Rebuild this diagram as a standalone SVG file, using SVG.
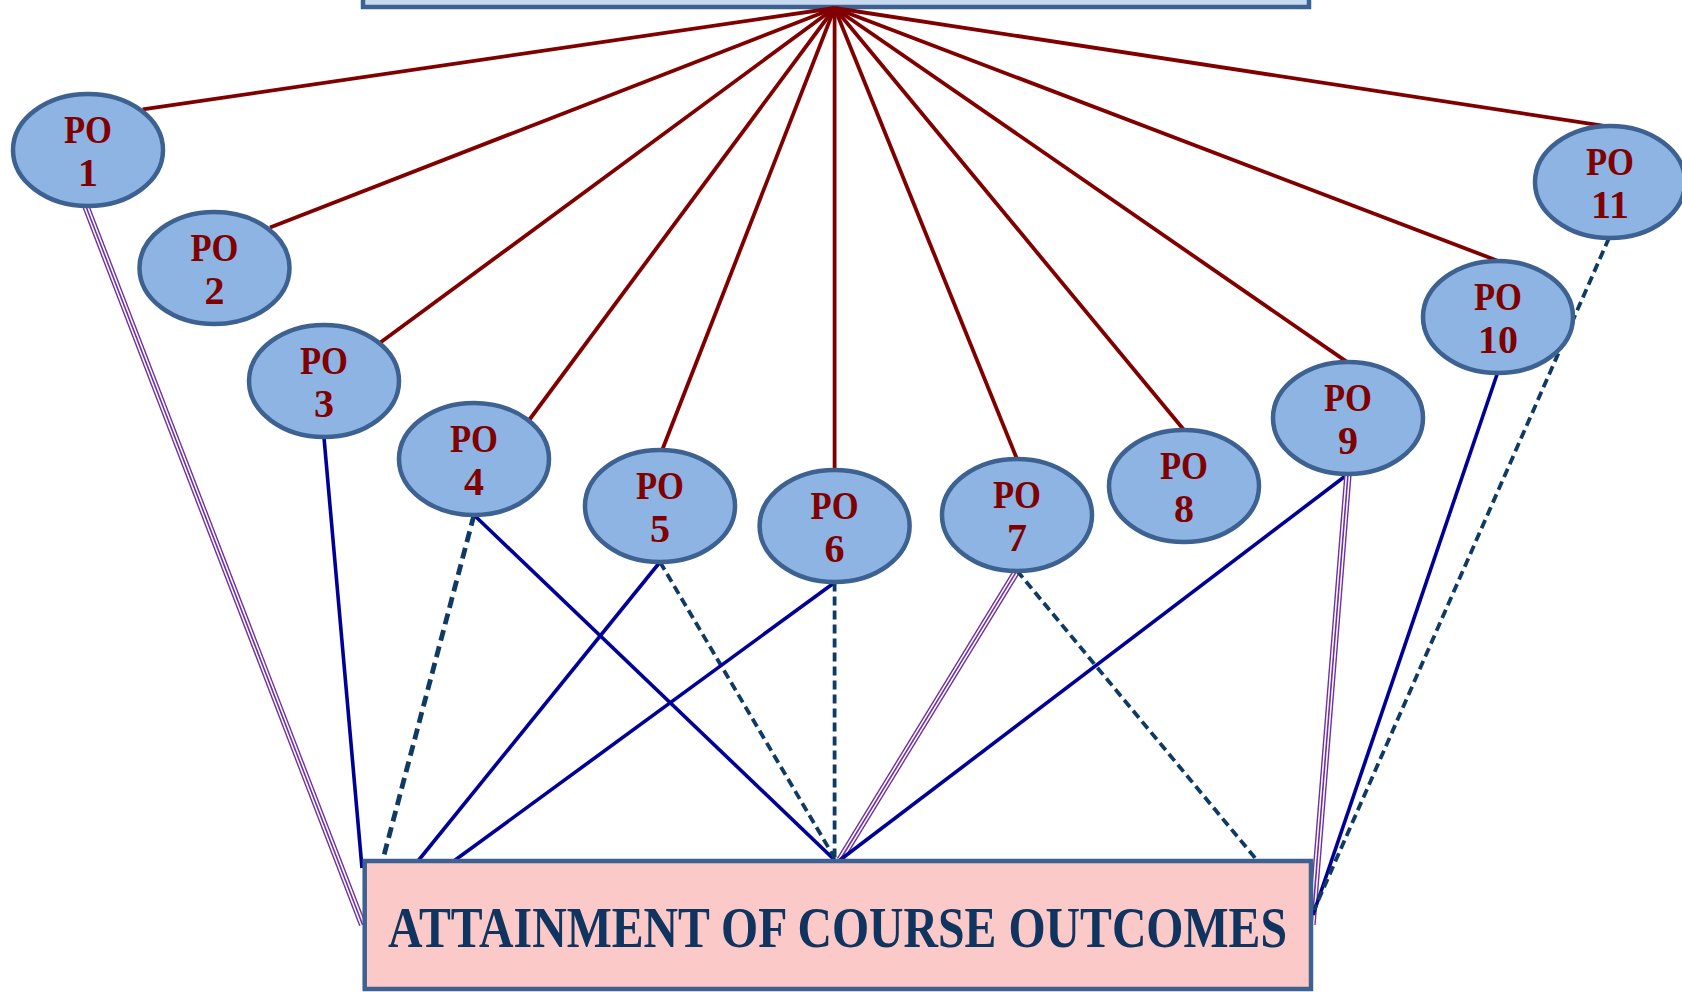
<svg xmlns="http://www.w3.org/2000/svg" width="1682" height="992" viewBox="0 0 1682 992">
<style>
.po{fill:#8eb4e3;stroke:#3d6190;stroke-width:4.5}
.pt{font-family:"Liberation Serif",serif;font-weight:bold;font-size:40px;fill:#800000;text-anchor:middle}
.red{stroke:#800000;stroke-width:3.8;fill:none}
.blue{stroke:#000099;stroke-width:3.6;fill:none}
.dash{stroke:#0f3a63;stroke-width:3.8;stroke-dasharray:9 5;fill:none}
.dashw{stroke:#0f3a63;stroke-width:4.8;stroke-dasharray:11 6;fill:none}
.p1{stroke:#7030a0;stroke-width:7.4;fill:none}
.p2{stroke:#ffffff;stroke-width:4.6;fill:none}
.p3{stroke:#7030a0;stroke-width:1.6;fill:none}
</style>
<rect width="1682" height="992" fill="#ffffff"/>
<g id="top-box">
<rect x="363" y="-30" width="946" height="37" fill="#c6d9f1" stroke="#3d6190" stroke-width="4.5"/>
</g>
<g id="connectors">
<line class="red" x1="834.6" y1="8" x2="142.7" y2="109.4"/>
<line class="red" x1="834.6" y1="8" x2="270" y2="227.4"/>
<line class="red" x1="834.6" y1="8" x2="379.7" y2="343"/>
<line class="red" x1="834.6" y1="8" x2="528.8" y2="420.5"/>
<line class="red" x1="834.6" y1="8" x2="662" y2="450.5"/>
<line class="red" x1="834.6" y1="8" x2="834.6" y2="470"/>
<line class="red" x1="834.6" y1="8" x2="1017" y2="459"/>
<line class="red" x1="834.6" y1="8" x2="1184" y2="430"/>
<line class="red" x1="834.6" y1="8" x2="1348" y2="362.6"/>
<line class="red" x1="834.6" y1="8" x2="1497.5" y2="260.7"/>
<line class="red" x1="834.6" y1="8" x2="1609" y2="126.6"/>
<g>
<line class="p1" x1="85.8" y1="206" x2="362.6" y2="924.7"/>
<line class="p2" x1="85.8" y1="206" x2="362.6" y2="924.7"/>
<line class="p3" x1="85.8" y1="206" x2="362.6" y2="924.7"/>
</g>
<line class="blue" x1="324" y1="437.7" x2="362" y2="868"/>
<line class="dashw" x1="474" y1="515" x2="383" y2="859"/>
<line class="blue" x1="474" y1="515" x2="834.6" y2="860"/>
<line class="blue" x1="660" y1="562" x2="418" y2="861"/>
<line class="dash" x1="660" y1="562" x2="834.6" y2="858"/>
<line class="blue" x1="834.6" y1="582.5" x2="453.8" y2="861"/>
<line class="dash" x1="834.6" y1="582.5" x2="834.6" y2="858"/>
<g>
<line class="p1" x1="1017" y1="570.7" x2="840" y2="860"/>
<line class="p2" x1="1017" y1="570.7" x2="840" y2="860"/>
<line class="p3" x1="1017" y1="570.7" x2="840" y2="860"/>
</g>
<line class="dash" x1="1017" y1="570.7" x2="1256" y2="859"/>
<line class="blue" x1="1348" y1="474" x2="840" y2="860"/>
<g>
<line class="p1" x1="1348" y1="474" x2="1312" y2="924.7"/>
<line class="p2" x1="1348" y1="474" x2="1312" y2="924.7"/>
<line class="p3" x1="1348" y1="474" x2="1312" y2="924.7"/>
</g>
<line class="blue" x1="1497.5" y1="373" x2="1313" y2="915"/>
<line class="dash" x1="1609" y1="238" x2="1314" y2="910"/>
</g>
<g id="outcomes">
<rect x="364.7" y="861" width="946.3" height="128" fill="#fcc9c9" stroke="#3d6190" stroke-width="4.5"/>
<text x="837.5" y="947" font-family="'Liberation Serif',serif" font-weight="bold" font-size="58" fill="#0f3460" text-anchor="middle" textLength="899" lengthAdjust="spacingAndGlyphs">ATTAINMENT OF COURSE OUTCOMES</text>
</g>
<g id="po1"><ellipse class="po" cx="88" cy="150" rx="75" ry="56"/><text class="pt" x="88" y="143" textLength="48" lengthAdjust="spacingAndGlyphs">PO</text><text class="pt" x="88" y="186">1</text></g>
<g id="po2"><ellipse class="po" cx="214.5" cy="268" rx="75" ry="56"/><text class="pt" x="214.5" y="261" textLength="48" lengthAdjust="spacingAndGlyphs">PO</text><text class="pt" x="214.5" y="304">2</text></g>
<g id="po3"><ellipse class="po" cx="324" cy="381" rx="75" ry="56"/><text class="pt" x="324" y="374" textLength="48" lengthAdjust="spacingAndGlyphs">PO</text><text class="pt" x="324" y="417">3</text></g>
<g id="po4"><ellipse class="po" cx="474" cy="459" rx="75" ry="56"/><text class="pt" x="474" y="452" textLength="48" lengthAdjust="spacingAndGlyphs">PO</text><text class="pt" x="474" y="495">4</text></g>
<g id="po5"><ellipse class="po" cx="660" cy="506" rx="75" ry="56"/><text class="pt" x="660" y="499" textLength="48" lengthAdjust="spacingAndGlyphs">PO</text><text class="pt" x="660" y="542">5</text></g>
<g id="po6"><ellipse class="po" cx="834.6" cy="526" rx="75" ry="56"/><text class="pt" x="834.6" y="519" textLength="48" lengthAdjust="spacingAndGlyphs">PO</text><text class="pt" x="834.6" y="562">6</text></g>
<g id="po7"><ellipse class="po" cx="1017" cy="515" rx="75" ry="56"/><text class="pt" x="1017" y="508" textLength="48" lengthAdjust="spacingAndGlyphs">PO</text><text class="pt" x="1017" y="551">7</text></g>
<g id="po8"><ellipse class="po" cx="1184" cy="486" rx="75" ry="56"/><text class="pt" x="1184" y="479" textLength="48" lengthAdjust="spacingAndGlyphs">PO</text><text class="pt" x="1184" y="522">8</text></g>
<g id="po9"><ellipse class="po" cx="1348" cy="418" rx="75" ry="56"/><text class="pt" x="1348" y="411" textLength="48" lengthAdjust="spacingAndGlyphs">PO</text><text class="pt" x="1348" y="454">9</text></g>
<g id="po10"><ellipse class="po" cx="1498" cy="317" rx="75" ry="56"/><text class="pt" x="1498" y="310" textLength="48" lengthAdjust="spacingAndGlyphs">PO</text><text class="pt" x="1498" y="353">10</text></g>
<g id="po11"><ellipse class="po" cx="1610" cy="182" rx="75" ry="56"/><text class="pt" x="1610" y="175" textLength="48" lengthAdjust="spacingAndGlyphs">PO</text><text class="pt" x="1610" y="218">11</text></g>
</svg>
